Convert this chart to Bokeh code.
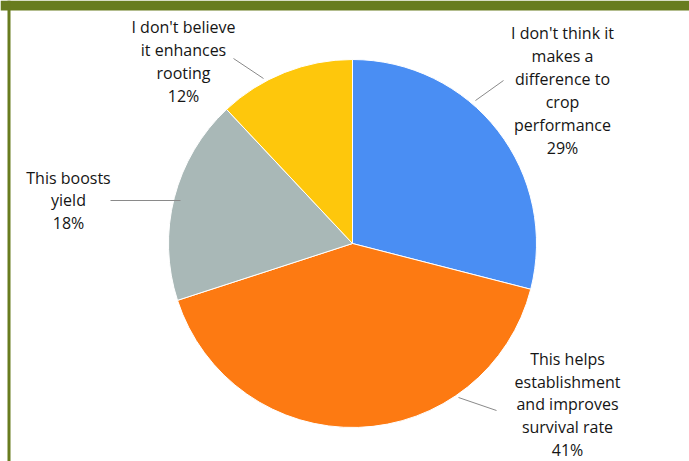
import math
from bokeh.plotting import figure
from bokeh.models import Range1d, BoxAnnotation, ColumnDataSource
from bokeh.core.properties import value
from bokeh.embed import file_html
from bokeh.resources import INLINE

# ---- data ----
categories = [
    "I don't think it\nmakes a\ndifference to\ncrop\nperformance",
    "This helps\nestablishment\nand improves\nsurvival rate",
    "This boosts\nyield",
    "I don't believe\nit enhances\nrooting",
]
shares = [29, 41, 18, 12]
colors = ["#4a8ef3", "#fd7a12", "#a9b8b7", "#fec70c"]

# ---- layout (pixel-like data units) ----
W, H = 689, 461
cx, cy, r = 352, H - 243, 184
label_pos = [(562, H - 90), (567, H - 404), (68, H - 200), (183, H - 61)]
leaders = [((475, 503), (H - 100, H - 80)),
           ((458, 496), (H - 397, H - 410)),
           ((110, 180), (H - 200, H - 200)),
           ((233, 263), (H - 58, H - 78))]

p = figure(width=W, height=H, x_range=Range1d(0, W), y_range=Range1d(0, H),
           output_backend="svg", toolbar_location=None, min_border=0,
           background_fill_color="white", border_fill_color="white")
p.axis.visible = False
p.grid.visible = False
p.outline_line_color = None

# frame
p.add_layout(BoxAnnotation(left=0, right=W, bottom=H - 10, top=H,
                           fill_color="#687c1f", fill_alpha=1, line_color=None))
p.add_layout(BoxAnnotation(left=7, right=10, bottom=0, top=H,
                           fill_color="#687c1f", fill_alpha=1, line_color=None))

total = sum(shares)
starts, ends, acc = [], [], 0.0
for s in shares:
    starts.append(math.pi / 2 - 2 * math.pi * acc / total)
    acc += s
    ends.append(math.pi / 2 - 2 * math.pi * acc / total)

src = ColumnDataSource(dict(start=starts, end=ends, color=colors))
p.wedge(x=cx, y=cy, radius=r, start_angle="start", end_angle="end",
        direction="clock", fill_color="color", line_color="white",
        line_width=1, source=src)

for (xs, ys) in leaders:
    p.line(list(xs), list(ys), line_color="#8a8a8a", line_width=1)

texts = [f"{c}\n{s}%" for c, s in zip(categories, shares)]
p.text(x=[lp[0] for lp in label_pos], y=[lp[1] for lp in label_pos], text=texts,
       text_align="center", text_baseline="middle", text_font=value("Open Sans"),
       text_font_size="16px", text_color="#151515", text_line_height=1.04)

open("out.html", "w").write(file_html(p, INLINE))
